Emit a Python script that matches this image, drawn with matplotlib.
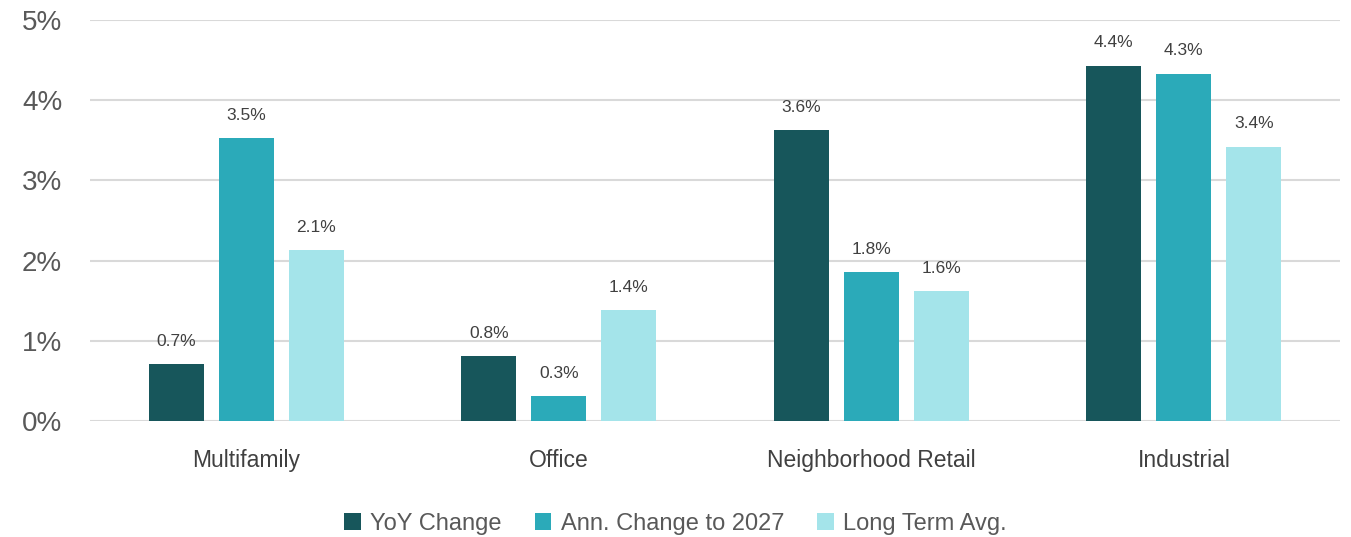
import numpy as np
import matplotlib.pyplot as plt
from matplotlib import font_manager as fm

#Data
categories = ['Multifamily', 'Office', 'Neighborhood Retail', 'Industrial']
series_names = ['YoY Change', 'Ann. Change to 2027', 'Long Term Avg.']
yoy = [0.71, 0.81, 3.63, 4.43]
ann_2027 = [3.53, 0.31, 1.86, 4.33]
long_avg = [2.13, 1.38, 1.62, 3.42]
labels = [['0.7%', '0.8%', '3.6%', '4.4%'],
          ['3.5%', '0.3%', '1.8%', '4.3%'],
          ['2.1%', '1.4%', '1.6%', '3.4%']]

colors = ['#17565B', '#2BAAB9', '#A4E4EA']
text_col = '#595959'

#Narrow font if it is there
names = {f.name for f in fm.fontManager.ttflist}
fam = 'Liberation Sans Narrow' if 'Liberation Sans Narrow' in names else 'Liberation Sans'
plt.rcParams['font.family'] = [fam, 'DejaVu Sans']

fig = plt.figure(figsize=(13.51, 5.37), dpi=100)
ax = fig.add_axes([0.0666, 0.216, 0.9254, 0.747])

x = np.arange(len(categories))
width = 0.176
step = 0.224
for i, vals in enumerate([yoy, ann_2027, long_avg]):
    bars = ax.bar(x + (i - 1) * step, vals, width, color=colors[i],
                  label=series_names[i], zorder=3)
    for b, txt in zip(bars, labels[i]):
        ax.annotate(txt, (b.get_x() + b.get_width() / 2, b.get_height()),
                    xytext=(0, 11), textcoords='offset points',
                    ha='center', va='bottom', fontsize=12.5, color='#404040')

ax.set_xlim(-0.5, 3.5)
ax.set_ylim(0, 5)
ax.set_yticks(range(6))
ax.set_yticklabels([f'{v}%' for v in range(6)], fontsize=20, color=text_col)
ax.set_xticks(x)
ax.set_xticklabels(categories, fontsize=16.5, color='#404040')
ax.tick_params(axis='both', length=0)
ax.tick_params(axis='y', pad=20)
ax.tick_params(axis='x', pad=20)
ax.grid(axis='y', color='#D9D9D9', linewidth=1.5, zorder=0)
for s in ax.spines.values():
    s.set_visible(False)

leg = fig.legend(loc='lower center', bbox_to_anchor=(0.5, -0.035), ncol=3,
                 frameon=False, fontsize=17, handlelength=0.7, handleheight=0.7,
                 handletextpad=0.4, columnspacing=1.4)
for t in leg.get_texts():
    t.set_color(text_col)

fig.savefig('out.png', dpi=100)
